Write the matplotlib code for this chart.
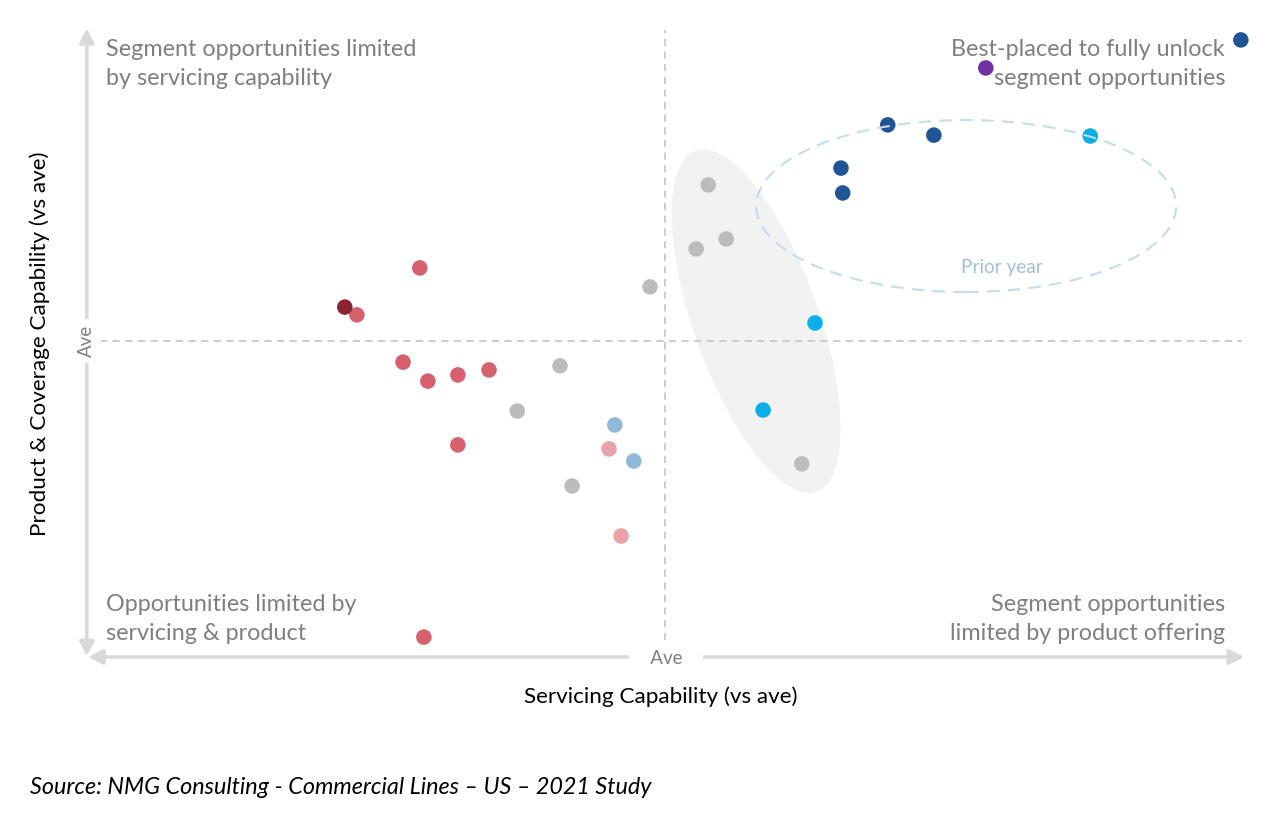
import numpy as np
from matplotlib import pyplot as plt
from matplotlib.patches import Ellipse
from matplotlib.transforms import ScaledTranslation

# Scores vs average (0 = Ave), both axes scaled to -1..1
red_x = [-0.425, -0.534, -0.454, -0.411, -0.359, -0.305, -0.359, -0.418]
red_y = [0.235, 0.084, -0.068, -0.129, -0.109, -0.093, -0.334, -0.952]
darkred_x = [-0.555]
darkred_y = [0.109]
pink_x = [-0.097, -0.076]
pink_y = [-0.347, -0.627]
lightblue_x = [-0.087, -0.054]
lightblue_y = [-0.270, -0.386]
grey_x = [-0.182, -0.256, -0.161, -0.026, 0.075, 0.054, 0.106, 0.237]
grey_y = [-0.080, -0.225, -0.466, 0.174, 0.502, 0.296, 0.328, -0.395]
cyan_x = [0.260, 0.170, 0.737]
cyan_y = [0.058, -0.222, 0.659]
navy_x = [0.998, 0.386, 0.466, 0.305, 0.308]
navy_y = [0.968, 0.695, 0.662, 0.556, 0.476]
purple_x = [0.556]
purple_y = [0.878]

# highlighted regions (centre in data units)
cluster_centre = (0.158, 0.064)
prior_centre = (0.522, 0.434)

quad_col = '#7f7f7f'
font = ['Lato', 'DejaVu Sans']
plt.rcParams['font.family'] = font

fig = plt.figure(figsize=(12.86, 8.18), dpi=100)
ax = fig.add_axes([88 / 1286, 1 - 652 / 818, 1154 / 1286, 622 / 818])
ax.set_xlim(-1, 1)
ax.set_ylim(-1, 1)
ax.axis('off')

# grey cluster ellipse, sized in inches around a data centre
tr = fig.dpi_scale_trans + ScaledTranslation(*cluster_centre, ax.transData)
ax.add_patch(Ellipse((0, 0), 3.62, 1.25, angle=109.5, transform=tr,
                     facecolor='#f2f2f2', edgecolor='none', zorder=1))

# average lines
ax.axvline(0, ymin=0.02, ymax=1, color='#c8c8c8', ls=(0, (4, 3)), lw=1.3, zorder=2)
ax.axhline(0, xmin=0.01, xmax=1, color='#c8c8c8', ls=(0, (4, 3)), lw=1.3, zorder=2)

# axes arrows
arrow = dict(arrowstyle='<|-|>', color='#d9d9d9', lw=2.5, mutation_scale=22,
             shrinkA=0, shrinkB=0)
ax.annotate('', xy=(1.004, -1.016), xytext=(-1.0, -1.016), arrowprops=arrow,
            annotation_clip=False, zorder=1)
ax.annotate('', xy=(-1.002, 1.006), xytext=(-1.002, -1.014), arrowprops=arrow,
            annotation_clip=False, zorder=1)

groups = [
    (red_x, red_y, '#d6606d'),
    (darkred_x, darkred_y, '#8b2332'),
    (pink_x, pink_y, '#e9a2aa'),
    (lightblue_x, lightblue_y, '#8fb9d6'),
    (grey_x, grey_y, '#bcbcbc'),
    (cyan_x, cyan_y, '#0aaee8'),
    (navy_x, navy_y, '#1f5597'),
    (purple_x, purple_y, '#7030a0'),
]
for gx, gy, c in groups:
    ax.scatter(gx, gy, s=125, color=c, edgecolors='none', zorder=3, clip_on=False)

# prior year ellipse drawn over the points
tr2 = fig.dpi_scale_trans + ScaledTranslation(*prior_centre, ax.transData)
ax.add_patch(Ellipse((0, 0), 4.20, 1.72, transform=tr2, facecolor='none',
                     edgecolor='#c5dcef', lw=1.5, ls=(0, (6, 4)), zorder=4))
ax.text(0.584, 0.235, 'Prior year', color='#9dbfdc', fontsize=13.7,
        ha='center', va='center', zorder=5)

# Ave labels (white box breaks the arrow line)
ax.text(0.002, -1.022, '   Ave   ', color=quad_col, fontsize=13.5, ha='center',
        va='center', bbox=dict(facecolor='white', edgecolor='none', pad=5), zorder=5,
        clip_on=False)
ax.text(-1.002, 0.0, 'Ave', color=quad_col, fontsize=13.5, ha='center', va='center',
        rotation=90, bbox=dict(facecolor='white', edgecolor='none', pad=4), zorder=5,
        clip_on=False)

# quadrant captions
qfs = 16.8
ls = 1.45
fig.text(106 / 1286, 1 - 64 / 818, 'Segment opportunities limited\nby servicing capability',
         color=quad_col, fontsize=qfs, ha='left', va='center', linespacing=ls)
fig.text(1225 / 1286, 1 - 64 / 818, 'Best-placed to fully unlock\nsegment opportunities',
         color=quad_col, fontsize=qfs, ha='right', va='center', linespacing=ls,
         multialignment='right')
fig.text(106 / 1286, 1 - 619 / 818, 'Opportunities limited by\nservicing & product',
         color=quad_col, fontsize=qfs, ha='left', va='center', linespacing=ls)
fig.text(1225 / 1286, 1 - 619 / 818, 'Segment opportunities\nlimited by product offering',
         color=quad_col, fontsize=qfs, ha='right', va='center', linespacing=ls,
         multialignment='right')

# axis titles and source
fig.text(661 / 1286, 1 - 697 / 818, 'Servicing Capability (vs ave)', color='black',
         fontsize=16.2, ha='center', va='center')
fig.text(40 / 1286, 1 - 344 / 818, 'Product & Coverage Capability (vs ave)', color='black',
         fontsize=16.2, ha='center', va='center', rotation=90)
fig.text(30 / 1286, 1 - 788 / 818, 'Source: NMG Consulting - Commercial Lines \u2013 US \u2013 2021 Study',
         color='black', fontsize=16.8, style='italic', ha='left', va='center')

fig.savefig('out.png', dpi=100, facecolor='white')
